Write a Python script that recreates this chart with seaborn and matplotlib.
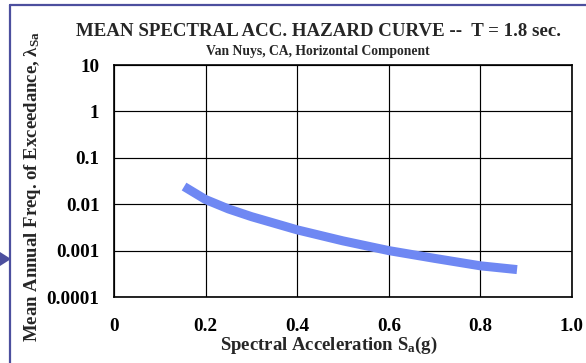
import matplotlib
matplotlib.use("Agg")
import matplotlib.pyplot as plt
from matplotlib.lines import Line2D
from matplotlib.patches import Polygon
import seaborn as sns
import pandas as pd

# Hazard curve values
sa_g = [0.153, 0.2, 0.25, 0.3, 0.4, 0.5, 0.6, 0.7, 0.8, 0.88]
mean_annual_freq = [0.024, 0.0126, 0.0079, 0.0054, 0.0028, 0.00162, 0.001, 0.00068, 0.00047, 0.00039]

x_ticks = [0, 0.2, 0.4, 0.6, 0.8, 1.0]
x_tick_labels = ["0", "0.2", "0.4", "0.6", "0.8", "1.0"]
y_ticks = [1e-4, 1e-3, 1e-2, 1e-1, 1, 10]
y_tick_labels = ["0.0001", "0.001", "0.01", "0.1", "1", "10"]

title = "MEAN SPECTRAL ACC. HAZARD CURVE --  T = 1.8 sec."
subtitle = "Van Nuys, CA, Horizontal Component"
x_label = r"Spectral Acceleration S$_{\mathbf{a}}$(g)"
y_label = r"Mean Annual Freq. of Exceedance, λ$_{\mathbf{Sa}}$"

sns.set_style("white")
plt.rcParams["font.family"] = ["Liberation Serif", "DejaVu Serif"]
plt.rcParams["font.weight"] = "bold"
plt.rcParams["mathtext.fontset"] = "custom"
plt.rcParams["mathtext.rm"] = "Liberation Serif:bold"
plt.rcParams["mathtext.bf"] = "Liberation Serif:bold"
plt.rcParams["mathtext.it"] = "Liberation Serif:bold"

W, H = 586, 363
fig = plt.figure(figsize=(W / 100, H / 100), dpi=100)
fig.patch.set_facecolor("white")

ax = fig.add_axes([114 / W, 1 - 297 / H, (572 - 114) / W, (297 - 65) / H])
ax.set_facecolor("white")

df = pd.DataFrame({"Sa": sa_g, "freq": mean_annual_freq})
sns.lineplot(data=df, x="Sa", y="freq", ax=ax, color="#6f88f3", lw=6.5,
             solid_capstyle="butt", zorder=3)

ax.set_yscale("log")
ax.set_xlim(0, 1.0)
ax.set_ylim(1e-4, 10)
ax.set_xticks(x_ticks)
ax.set_xticklabels(x_tick_labels)
ax.set_yticks(y_ticks)
ax.set_yticklabels(y_tick_labels)
ax.yaxis.set_minor_locator(matplotlib.ticker.NullLocator())

ax.grid(True, which="major", color="black", lw=0.85)
for s in ax.spines.values():
    s.set_color("black")
    s.set_linewidth(1.2)
ax.tick_params(axis="both", which="major", direction="out", length=5,
               width=1, color="black", labelsize=13.8, labelcolor="black")
ax.tick_params(axis="y", pad=5.5)
ax.tick_params(axis="x", pad=10)
for lab in ax.get_xticklabels() + ax.get_yticklabels():
    lab.set_fontweight("bold")

ax.set_xlabel("")
ax.set_ylabel("")
fig.text(329 / W, 1 - 345 / H, x_label, ha="center", va="center",
         fontsize=13.5, fontweight="bold")
fig.text(33 / W, 1 - 187 / H, y_label, ha="center", va="center",
         rotation=90, fontsize=13.5, fontweight="bold")

fig.text(318 / W, 1 - 32 / H, title, ha="center", va="center",
         fontsize=13.6, fontweight="bold")
fig.text(318 / W, 1 - 51 / H, subtitle, ha="center", va="center",
         fontsize=9.8, fontweight="bold")

# Slide frame: top rule, left rule and pointer
frame_color = "#4c4f9e"
fig.add_artist(Line2D([10 / W, 1.0], [1 - 5 / H, 1 - 5 / H],
                      transform=fig.transFigure, color=frame_color, lw=1.6))
fig.add_artist(Line2D([10 / W, 10 / W], [0, 1 - 5 / H],
                      transform=fig.transFigure, color=frame_color, lw=1.6))
fig.add_artist(Polygon([[0, 1 - 252 / H], [0, 1 - 266 / H], [11 / W, 1 - 259 / H]],
                       closed=True, transform=fig.transFigure,
                       facecolor=frame_color, edgecolor="none"))

fig.savefig("out.png", dpi=100, facecolor="white")
